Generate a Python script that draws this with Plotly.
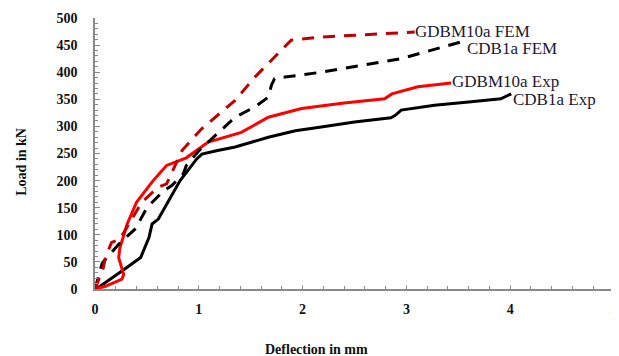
import plotly.graph_objects as go

# CDB1a Exp (black solid)
cdb_exp_x = [0, 0.05, 0.28, 0.44, 0.52, 0.55, 0.61, 0.69, 0.82, 0.98, 1.03, 1.17, 1.35, 1.67, 1.93, 2.18, 2.5, 2.85, 2.89, 2.95, 3.27, 3.6, 3.91, 4.01]
cdb_exp_y = [0, 5, 36, 58, 95, 120, 129, 157, 200, 240, 249, 255, 262, 280, 292, 299, 308, 316, 320, 330, 339, 345, 351, 360]

# GDBM10a Exp (red solid)
gd_exp_x = [0, 0.1, 0.26, 0.276, 0.228, 0.24, 0.31, 0.40, 0.56, 0.69, 0.88, 1.09, 1.41, 1.67, 1.99, 2.4, 2.79, 2.86, 3.11, 3.43]
gd_exp_y = [0, 5, 18, 27, 58, 76, 120, 160, 200, 228, 242, 271, 289, 317, 333, 343, 351, 360, 373, 380]

# CDB1a FEM (black dashed)
cdb_fem_x = [0, 0.07, 0.23, 0.27, 0.40, 0.44, 0.50, 0.66, 0.74, 0.85, 0.88, 1.00, 1.35, 1.54, 1.67, 1.70, 1.73, 1.83, 2.18, 2.95, 3.53]
cdb_fem_y = [0, 48, 83, 90, 113, 129, 150, 181, 191, 212, 228, 255, 317, 336, 354, 376, 388, 391, 400, 425, 456]

# GDBM10a FEM (dark red dashed)
gd_fem_x = [0, 0.08, 0.10, 0.16, 0.24, 0.45, 0.61, 0.69, 0.84, 1.03, 1.35, 1.54, 1.73, 1.89, 2.18, 3.08]
gd_fem_y = [0, 39, 58, 86, 92, 160, 188, 194, 256, 296, 348, 391, 428, 459, 465, 474]

labels = ["CDB1a Exp", "GDBM10a Exp", "CDB1a FEM", "GDBM10a FEM"]
label_x = [4.03, 3.44, 3.58, 3.08]
label_y = [350, 382, 443, 476]

x_ticks = [0, 1, 2, 3, 4, 5]
y_ticks = [0, 50, 100, 150, 200, 250, 300, 350, 400, 450, 500]

fig = go.Figure()
fig.add_trace(go.Scatter(x=cdb_exp_x, y=cdb_exp_y, mode="lines",
                         line=dict(color="black", width=3), name=labels[0]))
fig.add_trace(go.Scatter(x=gd_exp_x, y=gd_exp_y, mode="lines",
                         line=dict(color="#ff0000", width=3), name=labels[1]))
fig.add_trace(go.Scatter(x=cdb_fem_x, y=cdb_fem_y, mode="lines",
                         line=dict(color="black", width=3, dash="12px,9px"), name=labels[2]))
fig.add_trace(go.Scatter(x=gd_fem_x, y=gd_fem_y, mode="lines",
                         line=dict(color="#c00000", width=3, dash="12px,9px"), name=labels[3]))

for t, lx, ly in zip(labels, label_x, label_y):
    fig.add_annotation(x=lx, y=ly, text=t, showarrow=False, xanchor="left",
                       yanchor="middle", xshift=-2,
                       font=dict(family="Liberation Serif", size=17, color="#1a1a33"))

fig.add_annotation(xref="paper", yref="paper", x=0.426, y=-0.225, text="<b>Deflection in mm</b>",
                   showarrow=False, xanchor="center", yanchor="middle",
                   font=dict(family="Liberation Serif", size=14, color="#111111"))
fig.add_annotation(xref="paper", yref="paper", x=-0.141, y=0.469, text="<b>Load in kN</b>",
                   showarrow=False, xanchor="center", yanchor="middle", textangle=-90,
                   font=dict(family="Liberation Serif", size=14, color="#111111"))

tickfont = dict(family="Liberation Serif", size=14, color="#111111")
fig.update_layout(
    width=611, height=348,
    margin=dict(l=87, r=5, t=10, b=67),
    plot_bgcolor="white", paper_bgcolor="white",
    showlegend=False,
    xaxis=dict(range=[0, 5], tickvals=x_ticks, ticktext=["<b>%d</b>" % v for v in x_ticks],
               showgrid=False, zeroline=False, showline=True, linecolor="#8a8a8a", linewidth=1.5,
               ticks="inside", ticklen=4, tickcolor="#8a8a8a", automargin=False,
               minor=dict(dtick=0.2, ticks="inside", ticklen=3, tickcolor="#8a8a8a"),
               tickfont=tickfont, ticklabelstandoff=6, ticklabeloverflow="allow"),
    yaxis=dict(range=[0, 500], tickvals=y_ticks, ticktext=["<b>%d</b>" % v for v in y_ticks],
               showgrid=False, zeroline=False, showline=True, linecolor="#8a8a8a", linewidth=1.5,
               ticks="inside", ticklen=5, tickcolor="#8a8a8a", automargin=False,
               minor=dict(dtick=10, ticks="inside", ticklen=3, tickcolor="#8a8a8a"),
               tickfont=tickfont, ticklabelstandoff=13, ticklabeloverflow="allow"),
)

fig.write_html("out.html")
